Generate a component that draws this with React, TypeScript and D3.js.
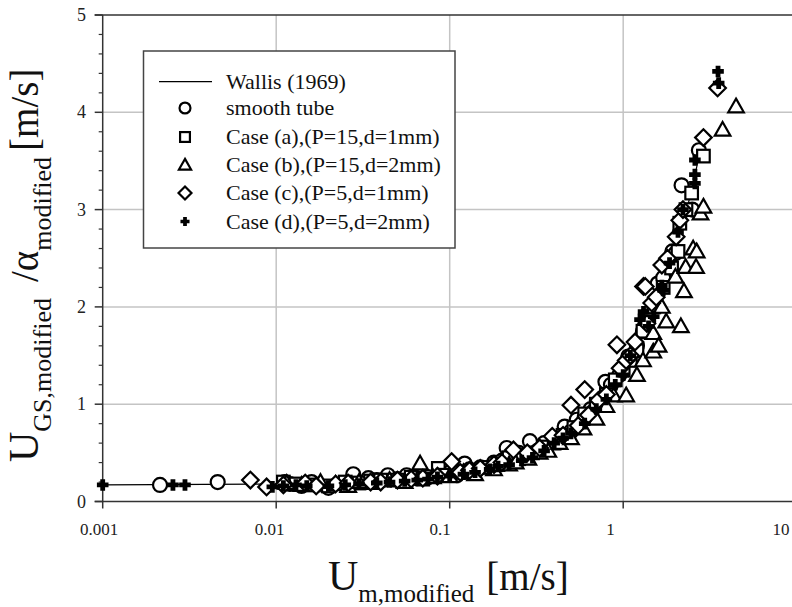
import React from "react";
import * as d3 from "d3";

const xTicks = [0.001, 0.01, 0.1, 1, 10];
const xTickLabels = ["0.001", "0.01", "0.1", "1", "10"];
const yTicks = [0, 1, 2, 3, 4, 5];
const yMinor = [0.2, 0.4, 0.6, 0.8, 1.2, 1.4, 1.6, 1.8, 2.2, 2.4, 2.6, 2.8, 3.2, 3.4, 3.6, 3.8, 4.2, 4.4, 4.6, 4.8];

const wallis: [number, number][] = [
  [0.001, 0.17], [0.01, 0.18], [0.03, 0.2], [0.1, 0.27], [0.2, 0.37], [0.3, 0.46], [0.5, 0.68],
  [0.7, 0.92], [1.0, 1.3], [1.3, 1.7], [1.6, 2.1], [2.0, 2.6], [2.4, 3.1], [2.7, 3.5],
];

const smooth: [number, number][] = [
  [0.00214, 0.17], [0.0046, 0.2], [0.0112, 0.2], [0.012, 0.18], [0.014, 0.16], [0.016, 0.2],
  [0.02, 0.14], [0.024, 0.18], [0.0278, 0.28], [0.034, 0.24], [0.038, 0.22], [0.044, 0.27],
  [0.05, 0.23], [0.0565, 0.27], [0.065, 0.24], [0.075, 0.25], [0.09, 0.28], [0.1, 0.3], [0.11, 0.27],
  [0.122, 0.39], [0.13, 0.33], [0.15, 0.35], [0.18, 0.4], [0.2, 0.42], [0.213, 0.55], [0.25, 0.5],
  [0.27, 0.47], [0.29, 0.62], [0.32, 0.52], [0.35, 0.6], [0.4, 0.62], [0.46, 0.77], [0.5, 0.72],
  [0.54, 0.84], [0.6, 0.86], [0.65, 0.95], [0.7, 0.98], [0.79, 1.23], [0.85, 1.2], [0.95, 1.3],
  [1.07, 1.49], [1.2, 1.6], [1.3, 1.75], [1.58, 2.24], [1.7, 2.3], [1.92, 2.57], [2.0, 2.55],
  [2.17, 3.25], [2.5, 3.0], [2.73, 3.61],
];

const caseA: [number, number][] = [
  [0.011, 0.2], [0.013, 0.18], [0.0164, 0.17], [0.02, 0.16], [0.025, 0.2], [0.03, 0.19], [0.035, 0.21],
  [0.04, 0.22], [0.05, 0.22], [0.06, 0.25], [0.07, 0.23], [0.086, 0.34], [0.095, 0.27], [0.11, 0.3],
  [0.13, 0.3], [0.16, 0.35], [0.19, 0.38], [0.22, 0.45], [0.25, 0.44], [0.3, 0.5], [0.36, 0.56],
  [0.4, 0.6], [0.45, 0.68], [0.52, 0.76], [0.6, 0.9], [0.7, 1.0], [0.8, 1.1], [0.9, 1.25], [1.0, 1.35],
  [1.1, 1.45], [1.2, 1.55], [1.3, 1.75], [1.4, 1.9], [1.5, 2.0], [1.7, 2.2], [1.9, 2.4], [2.07, 2.57],
  [2.12, 2.86], [2.3, 3.0], [2.48, 3.17], [2.9, 3.55],
];

const caseB: [number, number][] = [
  [0.0115, 0.19], [0.014, 0.17], [0.018, 0.2], [0.022, 0.18], [0.026, 0.16], [0.03, 0.2], [0.036, 0.19],
  [0.045, 0.22], [0.055, 0.2], [0.0675, 0.39], [0.08, 0.25], [0.1, 0.26], [0.12, 0.3], [0.14, 0.28],
  [0.18, 0.33], [0.22, 0.38], [0.24, 0.4], [0.284, 0.44], [0.33, 0.5], [0.37, 0.52], [0.43, 0.6],
  [0.5, 0.65], [0.59, 0.75], [0.7, 0.85], [0.8, 0.98], [0.88, 1.09], [1.04, 1.09], [1.2, 1.3],
  [1.3, 1.45], [1.49, 1.54], [1.49, 1.73], [1.6, 1.6], [1.77, 1.85], [2.15, 1.8], [1.67, 2.0],
  [2.24, 2.16], [2.0, 2.31], [2.29, 2.41], [2.63, 2.41], [2.53, 2.6], [2.65, 2.57], [2.79, 2.96],
  [2.9, 3.03], [3.74, 3.82], [4.47, 4.06],
];

const caseC: [number, number][] = [
  [0.0071, 0.22], [0.0088, 0.15], [0.011, 0.17], [0.0147, 0.19], [0.017, 0.16], [0.022, 0.18],
  [0.026, 0.19], [0.035, 0.2], [0.04, 0.2], [0.05, 0.22], [0.06, 0.23], [0.07, 0.24], [0.085, 0.26],
  [0.1026, 0.41], [0.115, 0.3], [0.13, 0.32], [0.15, 0.34], [0.18, 0.38], [0.2, 0.4], [0.233, 0.53],
  [0.28, 0.5], [0.33, 0.55], [0.39, 0.67], [0.45, 0.68], [0.5, 0.99], [0.55, 0.78], [0.6, 1.15],
  [0.63, 0.89], [0.72, 1.04], [0.8, 1.1], [0.92, 1.61], [0.96, 1.37], [1.04, 1.45], [1.1, 1.5],
  [1.17, 1.64], [1.31, 2.21], [1.34, 2.21], [1.37, 1.83], [1.46, 2.04], [1.55, 2.1], [1.67, 2.43],
  [1.8, 2.5], [2.02, 2.72], [2.12, 2.89], [2.21, 3.0], [2.9, 3.74], [3.5, 4.25],
];

const caseD: [number, number][] = [
  [0.001, 0.17], [0.00254, 0.17], [0.00298, 0.17], [0.0095, 0.15], [0.011, 0.16], [0.013, 0.17],
  [0.015, 0.16], [0.02, 0.16], [0.025, 0.17], [0.03, 0.18], [0.038, 0.19], [0.045, 0.2], [0.055, 0.21],
  [0.065, 0.22], [0.075, 0.23], [0.085, 0.25], [0.1, 0.26], [0.12, 0.28], [0.14, 0.3], [0.17, 0.33],
  [0.19, 0.36], [0.22, 0.38], [0.26, 0.42], [0.3, 0.45], [0.35, 0.52], [0.4, 0.6], [0.45, 0.65],
  [0.5, 0.7], [0.6, 0.8], [0.7, 0.95], [0.8, 1.05], [0.9, 1.2], [1.0, 1.3], [1.1, 1.5], [1.25, 1.87],
  [1.31, 1.95], [1.4, 1.8], [1.5, 1.9], [1.67, 2.22], [1.7, 2.17], [1.85, 2.45], [2.07, 2.77],
  [2.21, 3.0], [2.59, 3.51], [2.59, 3.36], [2.59, 3.27], [3.52, 4.42], [3.55, 4.3],
];

const legendLabels = [
  "Wallis (1969)",
  "smooth tube",
  "Case (a),(P=15,d=1mm)",
  "Case (b),(P=15,d=2mm)",
  "Case (c),(P=5,d=1mm)",
  "Case (d),(P=5,d=2mm)",
];

const FONT = "'Liberation Serif', 'Times New Roman', Times, serif";

type Kind = "circle" | "square" | "triangle" | "diamond" | "plus";

function Marker({ kind, x, y, s, sw }: { kind: Kind; x: number; y: number; s: number; sw: number }) {
  if (kind === "circle") return <circle cx={x} cy={y} r={7 * s} fill="white" stroke="black" strokeWidth={sw} />;
  if (kind === "square") {
    const h = 6.3 * s;
    return <rect x={x - h} y={y - h} width={2 * h} height={2 * h} fill="white" stroke="black" strokeWidth={sw} />;
  }
  if (kind === "triangle") {
    const h = 7.8 * s;
    return (
      <path d={`M${x},${y - h}L${x + h},${y + h * 0.75}L${x - h},${y + h * 0.75}Z`} fill="white" stroke="black" strokeWidth={sw} strokeLinejoin="miter" />
    );
  }
  if (kind === "diamond") {
    const h = 8.3 * s;
    return <path d={`M${x},${y - h}L${x + h},${y}L${x},${y + h}L${x - h},${y}Z`} fill="white" stroke="black" strokeWidth={sw} />;
  }
  const a = 5.8 * s;
  const w = 2.4 * s;
  return (
    <path
      d={`M${x - w},${y - a}H${x + w}V${y - w}H${x + a}V${y + w}H${x + w}V${y + a}H${x - w}V${y + w}H${x - a}V${y - w}H${x - w}Z`}
      fill="black"
    />
  );
}

export default function App() {
  const x = d3.scaleLog().domain([0.001, 10]).range([102.7, 796.7]);
  const xLab = d3.scaleLog().domain([0.001, 10]).range([99, 781]);
  const y = d3.scaleLinear().domain([0, 5]).range([501.5, 15]);
  const line = d3
    .line<[number, number]>()
    .x((d) => x(d[0]))
    .y((d) => y(d[1]))
    .curve(d3.curveMonotoneX);

  const series: { kind: Kind; data: [number, number][] }[] = [
    { kind: "circle", data: smooth },
    { kind: "square", data: caseA },
    { kind: "triangle", data: caseB },
    { kind: "diamond", data: caseC },
    { kind: "plus", data: caseD },
  ];

  const x0 = x.range()[0];
  const y0 = y.range()[0];
  const yTop = y.range()[1];

  const legendX = 143.5;
  const legendY = 51;
  const rows = [81.7, 108, 137, 165, 193, 221.5];

  return (
    <svg
      width={792}
      height={607}
      style={{ position: "absolute", left: 0, top: 0, background: "white", fontFamily: FONT }}
    >
      <rect x={0} y={0} width={792} height={607} fill="white" />
      {yTicks.slice(1, 5).map((t) => (
        <line key={"gy" + t} x1={x0} x2={792} y1={y(t)} y2={y(t)} stroke="#c4c4c4" strokeWidth={1.5} />
      ))}
      {xTicks.slice(1).map((t) => (
        <line key={"gx" + t} x1={x(t)} x2={x(t)} y1={yTop} y2={y0} stroke="#c4c4c4" strokeWidth={1.5} />
      ))}
      <line x1={x0} x2={x0} y1={yTop} y2={y0} stroke="#333" strokeWidth={1.5} />
      <line x1={x0 - 8} x2={792} y1={y0} y2={y0} stroke="#333" strokeWidth={1.5} />
      <line x1={x0 - 8} x2={792} y1={yTop} y2={yTop} stroke="#333" strokeWidth={1.5} />
      {yTicks.map((t) => (
        <g key={"yt" + t}>
          <line x1={x0 - 8} x2={x0} y1={y(t)} y2={y(t)} stroke="#333" strokeWidth={1.5} />
          <text x={86} y={y(t) + 6} fontSize={18} textAnchor="end" fill="#222">
            {t}
          </text>
        </g>
      ))}
      {yMinor.map((t) => (
        <line key={"ym" + t} x1={x0 - 4} x2={x0} y1={y(t)} y2={y(t)} stroke="#333" strokeWidth={1.2} />
      ))}
      {xTicks.map((t, i) => (
        <g key={"xt" + t}>
          <line x1={x(t)} x2={x(t)} y1={y0} y2={y0 + 7} stroke="#333" strokeWidth={1.5} />
          <text x={xLab(t)} y={535} fontSize={17} textAnchor="middle" fill="#222">
            {xTickLabels[i]}
          </text>
        </g>
      ))}
      <path d={line(wallis) || ""} fill="none" stroke="black" strokeWidth={1.2} />
      {series.map((s) =>
        s.data.map((d, i) => <Marker key={s.kind + i} kind={s.kind} x={x(d[0])} y={y(d[1])} s={1} sw={2.2} />)
      )}
      <rect x={legendX} y={legendY} width={311.5} height={197} fill="white" stroke="#444" strokeWidth={1.5} />
      <line x1={159} x2={212} y1={rows[0]} y2={rows[0]} stroke="black" strokeWidth={1.2} />
      {(["circle", "square", "triangle", "diamond", "plus"] as Kind[]).map((k, i) => (
        <Marker key={"lg" + k} kind={k} x={185} y={rows[i + 1]} s={0.78} sw={2.2} />
      ))}
      {legendLabels.map((l, i) => (
        <text key={"ll" + i} x={226} y={rows[i] + 7} fontSize={22} fill="#111">
          {l}
        </text>
      ))}
      <text x={328} y={590} fill="#111" fontSize={42}>
        <tspan>U</tspan>
        <tspan fontSize={25} dy={12}>m,modified</tspan>
        <tspan fontSize={39} dx={12} dy={-12}>[m/s]</tspan>
      </text>
      <text transform="translate(38,462) rotate(-90)" fill="#111" fontSize={42}>
        <tspan>U</tspan>
        <tspan fontSize={26} dy={13}>GS,modified</tspan>
        <tspan fontSize={39} dx={16} dy={-13}>/α</tspan>
        <tspan fontSize={26} dy={13}>modified</tspan>
        <tspan fontSize={39} dx={6} dy={-13}>[m/s]</tspan>
      </text>
    </svg>
  );
}
